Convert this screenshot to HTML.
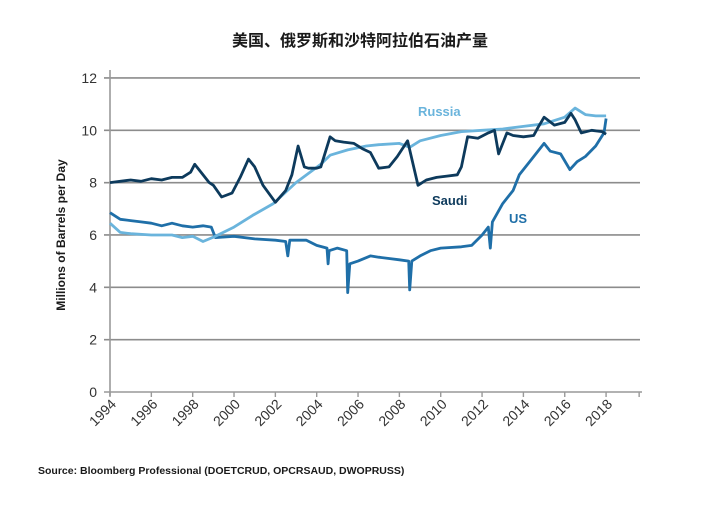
<!DOCTYPE html>
<html><head><meta charset="utf-8"><style>
body{margin:0;background:#fff;width:720px;height:500px;overflow:hidden;font-family:"Liberation Sans","Noto Sans CJK SC",sans-serif}
</style></head><body>
<svg width="720" height="500" xmlns="http://www.w3.org/2000/svg">
<text x="360" y="46" text-anchor="middle" font-size="16" font-weight="bold" fill="#1a1a1a" font-family="Liberation Sans, Noto Sans CJK SC, sans-serif">美国、俄罗斯和沙特阿拉伯石油产量</text>
<g id="grid"></g><g id="axes"></g><g id="series"></g>
<text x="418" y="116" font-size="13" fill="#6ab4dc" font-weight="bold">Russia</text>
<text x="432" y="205" font-size="13" fill="#0d3a5c" font-weight="bold">Saudi</text>
<text x="509" y="223" font-size="13" fill="#1f6fa8" font-weight="bold">US</text>
<text transform="translate(65,235) rotate(-90)" text-anchor="middle" font-size="12" font-weight="bold" fill="#1a1a1a">Millions of Barrels per Day</text>
<text x="38" y="474" font-size="10.5" font-weight="bold" fill="#1a1a1a">Source:  Bloomberg Professional (DOETCRUD, OPCRSAUD, DWOPRUSS)</text>
</svg>
<script>
const yTicks=[0,2,4,6,8,10,12];
const xTicks=[1994,1996,1998,2000,2002,2004,2006,2008,2010,2012,2014,2016,2018];
const saudiT=[1994,1994.5,1995,1995.5,1996,1996.5,1997,1997.5,1997.9,1998.1,1998.5,1998.8,1999.0,1999.4,1999.9,2000.3,2000.7,2001.0,2001.4,2002.0,2002.5,2002.8,2003.1,2003.4,2003.6,2004.0,2004.2,2004.65,2004.9,2005.3,2005.8,2006.2,2006.6,2007.0,2007.5,2007.9,2008.4,2008.9,2009.3,2009.8,2010.3,2010.8,2011.0,2011.3,2011.8,2012.3,2012.6,2012.8,2013.2,2013.5,2014.0,2014.5,2014.7,2015.0,2015.5,2016.0,2016.3,2016.5,2016.8,2017.3,2017.8,2018.0];
const saudiV=[8.0,8.05,8.1,8.05,8.15,8.1,8.2,8.2,8.4,8.7,8.3,8.0,7.9,7.45,7.6,8.2,8.9,8.6,7.9,7.25,7.7,8.3,9.4,8.6,8.55,8.55,8.6,9.75,9.6,9.55,9.5,9.3,9.15,8.55,8.6,9.0,9.6,7.9,8.1,8.2,8.25,8.3,8.6,9.75,9.7,9.9,10.0,9.1,9.9,9.8,9.75,9.8,10.1,10.5,10.2,10.3,10.65,10.4,9.9,10.0,9.95,9.85];
const russiaT=[1994,1994.5,1995,1996,1997,1997.5,1998,1998.5,1999.1,2000,2000.9,2001.9,2003.0,2004.2,2004.65,2005.5,2006.4,2007.0,2008.0,2008.5,2009,2010,2011,2012,2013,2014,2015,2016,2016.5,2017,2017.5,2018];
const russiaV=[6.45,6.1,6.05,6.0,6.0,5.9,5.95,5.75,5.95,6.3,6.75,7.2,8.0,8.7,9.05,9.25,9.4,9.45,9.5,9.35,9.6,9.8,9.95,10.0,10.05,10.15,10.25,10.5,10.85,10.6,10.55,10.55];
const usT=[1994,1994.5,1995,1995.5,1996,1996.5,1997,1997.5,1998,1998.5,1998.9,1999.1,2000,2001,2002,2002.5,2002.6,2002.7,2003.5,2004,2004.5,2004.55,2004.6,2005,2005.45,2005.5,2005.6,2006,2006.6,2007,2007.5,2008,2008.45,2008.5,2008.6,2009,2009.5,2010,2011,2011.5,2012,2012.3,2012.4,2012.5,2013,2013.5,2013.8,2014.4,2015.0,2015.3,2015.8,2016.25,2016.6,2017,2017.5,2017.9,2018.0];
const usV=[6.85,6.6,6.55,6.5,6.45,6.35,6.45,6.35,6.3,6.35,6.3,5.9,5.95,5.85,5.8,5.75,5.2,5.8,5.8,5.6,5.5,4.9,5.4,5.5,5.4,3.8,4.9,5.0,5.2,5.15,5.1,5.05,5.0,3.9,5.0,5.2,5.4,5.5,5.55,5.6,6.0,6.3,5.5,6.5,7.2,7.7,8.3,8.9,9.5,9.2,9.1,8.5,8.8,9.0,9.4,9.9,10.45];
const ns="http://www.w3.org/2000/svg";
const x=yr=>110+(yr-1994)*20.67, y=v=>392-v*26.17;
function mk(tag,attrs,parent){const e=document.createElementNS(ns,tag);for(const k in attrs)e.setAttribute(k,attrs[k]);parent.appendChild(e);return e;}
const grid=document.getElementById('grid'),axes=document.getElementById('axes'),series=document.getElementById('series');
yTicks.forEach(t=>{
 if(t>0){const l=mk('line',{x1:104,x2:640,y1:y(t),y2:y(t),stroke:'#8c8c8c','stroke-width':1.6},grid);
 
 }
 const tx=mk('text',{x:97,y:y(t)+5,'text-anchor':'end','font-size':14,fill:'#333'},axes);tx.textContent=t;
 
 
});
const ax=mk('line',{x1:104,x2:642,y1:392,y2:392,stroke:'#999','stroke-width':1.6},axes);


const ay=mk('line',{x1:110,x2:110,y1:70,y2:396,stroke:'#999','stroke-width':1.6},axes);


xTicks.concat([2019.6]).forEach(t=>{mk('line',{x1:x(t),x2:x(t),y1:392,y2:397,stroke:'#999','stroke-width':1.4},axes);});
xTicks.forEach(t=>{
 const tx=mk('text',{transform:`translate(${x(t)+7},${405}) rotate(-45)`,'text-anchor':'end','font-size':14,fill:'#333'},axes);tx.textContent=t;
 
 
});
function line(T,V,color,name){
 const d=T.map((t,i)=>(i?'L':'M')+x(t).toFixed(1)+','+y(V[i]).toFixed(1)).join(' ');
 const p=mk('path',{d:d,fill:'none',stroke:color,'stroke-width':2.8,'stroke-linejoin':'round'},series);
 
 
}
line(usT,usV,'#1f6fa8','us-line');
line(russiaT,russiaV,'#6ab4dc','russia-line');
line(saudiT,saudiV,'#0d3a5c','saudi-line');
</script>
</body></html>
